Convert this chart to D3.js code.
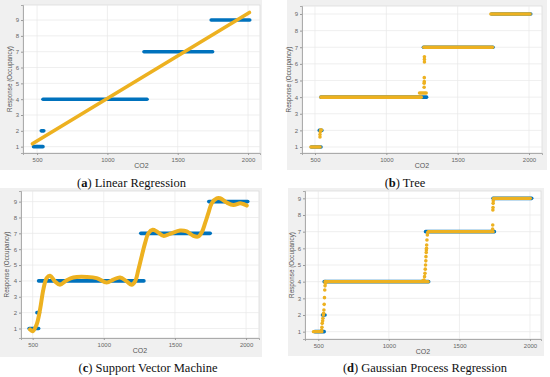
<!DOCTYPE html>
<html>
<head>
<meta charset="utf-8">
<script src="https://d3js.org/d3.v7.min.js"></script>
<style>
  body { margin: 0; background: #fff; }
  svg { display: block; }
</style>
</head>
<body>
<script>
// measured data (CO2 vs occupancy), shared by all four panels
var actualLevel = [1, 2, 4, 7, 9];
var actualStart = [475, 530, 542, 1260, 1738];
var actualEnd   = [542, 548, 1282, 1748, 2012];

// (a) linear regression
var linCO2  = [467, 2010];
var linResp = [1.18, 9.48];

// (b) tree
var treeLevel = [1, 4, 4.25, 7, 9];
var treeStart = [472, 542, 1233, 1263, 1733];
var treeEnd   = [535, 1244, 1279, 1744, 2007];
var treePtCO2  = [535, 535, 537, 539, 545, 1265, 1265, 1266, 1266, 1267, 1267, 1267];
var treePtResp = [1.6, 1.75, 1.92, 2.02, 2.02, 4.59, 4.83, 4.93, 5.17, 6.11, 6.27, 6.43];

// (c) support vector machine
var svmCO2  = [481, 500, 528, 552, 575, 598, 622, 657, 692, 739, 786, 880, 950, 1020, 1067, 1114, 1161, 1196, 1220,
               1243, 1266, 1290, 1313, 1344, 1372, 1419, 1466, 1536, 1583, 1630, 1665, 1688, 1712, 1735, 1759, 1794,
               1817, 1864, 1911, 1958, 1981, 2005];
var svmResp = [0.94, 0.83, 1.25, 2.2, 3.45, 4.18, 4.33, 3.97, 3.76, 4.04, 4.22, 4.25, 4.18, 3.9, 4.08, 4.22, 3.97, 3.76, 3.97,
               4.7, 5.54, 6.38, 7.0, 7.22, 7.12, 6.84, 6.97, 7.18, 7.12, 6.84, 6.8, 7.05, 7.64, 8.27, 8.9, 9.21,
               9.21, 8.94, 8.79, 8.9, 8.85, 8.75];

// (d) gaussian process regression
var gprLevel = [1, 4, 7, 9];
var gprStart = [465, 547, 1279, 1741];
var gprEnd   = [526, 1279, 1739, 2003];
var gprPtCO2  = [524, 526, 528, 531, 533, 536, 538, 540, 542, 544, 546, 548, 551, 553,
                 1240, 1249, 1253, 1256, 1258, 1260, 1262, 1263, 1265, 1266, 1267, 1268, 1270, 1273, 1276,
                 1735, 1736, 1737, 1738, 1739, 1740];
var gprPtResp = [1.1, 1.26, 1.5, 1.65, 1.8, 2.0, 2.1, 2.3, 2.64, 3.04, 3.5, 3.75, 3.9, 4.0,
                 4.05, 4.1, 4.3, 4.5, 4.75, 5.0, 5.25, 5.5, 5.75, 5.9, 6.0, 6.2, 6.5, 6.8, 6.95,
                 7.15, 7.4, 8.3, 8.45, 8.7, 8.85];

var xTicks = [500, 1000, 1500, 2000];
var yTicks = [1, 2, 3, 4, 5, 6, 7, 8, 9];

var BLUE = "#0072BD", GOLD = "#EDB120";

var svg = d3.select("body").append("svg")
  .attr("width", 550).attr("height", 377);

var panels = [
  {frame: [0, 0, 262, 170], plot: [23, 5, 237, 148], xd: [400, 2085], yd: [0.6, 9.95],
   lab: 11, letter: "a", title: "Linear Regression", cx: 131.5, cy: 187},
  {frame: [287, 0, 260, 170], plot: [302, 6, 240, 147], xd: [409, 2091], yd: [0.64, 9.48],
   lab: 11, letter: "b", title: "Tree", cx: 405, cy: 187},
  {frame: [0, 188, 262, 169], plot: [21, 191, 238, 147], xd: [418, 2091], yd: [0.4, 9.67],
   lab: 12, letter: "c", title: "Support Vector Machine", cx: 148, cy: 372},
  {frame: [288, 188, 256, 168], plot: [305, 191, 236, 148], xd: [406, 2078], yd: [0.56, 9.44],
   lab: 11, letter: "d", title: "Gaussian Process Regression", cx: 425, cy: 372}
];

function drawPanel(p) {
  var g = svg.append("g");
  g.append("rect")
    .attr("x", p.frame[0]).attr("y", p.frame[1])
    .attr("width", p.frame[2]).attr("height", p.frame[3])
    .attr("fill", "#f0f0f0");

  var px = p.plot[0], py = p.plot[1], pw = p.plot[2], ph = p.plot[3];
  var x = d3.scaleLinear().domain(p.xd).range([px, px + pw]);
  var y = d3.scaleLinear().domain(p.yd).range([py + ph, py]);

  g.append("rect")
    .attr("x", px).attr("y", py).attr("width", pw).attr("height", ph)
    .attr("fill", "#fff").attr("stroke", "#dcdcdc").attr("stroke-width", 0.8);

  // grid
  g.selectAll(".gx").data(xTicks).enter().append("line")
    .attr("x1", d => x(d)).attr("x2", d => x(d))
    .attr("y1", py).attr("y2", py + ph)
    .attr("stroke", "#e8e8e8").attr("stroke-width", 0.7);
  g.selectAll(".gy").data(yTicks).enter().append("line")
    .attr("x1", px).attr("x2", px + pw)
    .attr("y1", d => y(d)).attr("y2", d => y(d))
    .attr("stroke", "#e8e8e8").attr("stroke-width", 0.7);

  // axes
  var xa = g.append("g").attr("transform", "translate(0," + (py + ph) + ")")
    .call(d3.axisBottom(x).tickValues(xTicks).tickSize(2).tickPadding(3).tickFormat(d3.format("d")));
  var ya = g.append("g").attr("transform", "translate(" + px + ",0)")
    .call(d3.axisLeft(y).tickValues(yTicks).tickSize(2).tickPadding(2).tickFormat(d3.format("d")));
  [xa, ya].forEach(function(a) {
    a.select(".domain").attr("stroke", "#9a9a9a").attr("stroke-width", 0.8);
    a.selectAll(".tick line").attr("stroke", "#9a9a9a");
    a.selectAll(".tick text").attr("fill", "#666")
      .style("font-family", "Liberation Sans, Arial, sans-serif").style("font-size", "6px");
  });

  g.append("text")
    .attr("x", px + pw / 2).attr("y", py + ph + 15)
    .attr("text-anchor", "middle").attr("fill", "#555")
    .style("font-family", "Liberation Sans, Arial, sans-serif").style("font-size", "7px")
    .text("CO2");
  g.append("text")
    .attr("transform", "translate(" + (px - p.lab) + "," + (py + ph / 2) + ") rotate(-90)")
    .attr("text-anchor", "middle").attr("fill", "#555")
    .style("font-family", "Liberation Sans, Arial, sans-serif").style("font-size", "6.3px")
    .text("Response (Occupancy)");

  // measured data
  g.selectAll(".act").data(actualLevel).enter().append("line")
    .attr("x1", (d, i) => x(actualStart[i])).attr("x2", (d, i) => x(actualEnd[i]))
    .attr("y1", d => y(d)).attr("y2", d => y(d))
    .attr("stroke", BLUE).attr("stroke-width", 3.6).attr("stroke-linecap", "round");

  var c = {x: x, y: y, g: g};
  return c;
}

function steps(c, lv, s, e, w) {
  c.g.selectAll(null).data(lv).enter().append("line")
    .attr("x1", (d, i) => c.x(s[i])).attr("x2", (d, i) => c.x(e[i]))
    .attr("y1", d => c.y(d)).attr("y2", d => c.y(d))
    .attr("stroke", GOLD).attr("stroke-width", w).attr("stroke-linecap", "round");
}

function dots(c, xs, ys) {
  c.g.selectAll(null).data(xs).enter().append("circle")
    .attr("cx", d => c.x(d)).attr("cy", (d, i) => c.y(ys[i]))
    .attr("r", 1.8).attr("fill", GOLD);
}

function caption(p) {
  var t = svg.append("text")
    .attr("x", p.cx).attr("y", p.cy).attr("text-anchor", "middle")
    .attr("fill", "#111")
    .style("font-family", "Liberation Serif, Times New Roman, serif").style("font-size", "12.5px");
  t.append("tspan").text("(");
  t.append("tspan").style("font-weight", "bold").text(p.letter);
  t.append("tspan").text(") " + p.title);
}

var ca = drawPanel(panels[0]);
ca.g.append("path")
  .datum(d3.zip(linCO2, linResp))
  .attr("d", d3.line().x(d => ca.x(d[0])).y(d => ca.y(d[1])))
  .attr("fill", "none").attr("stroke", GOLD).attr("stroke-width", 3.6).attr("stroke-linecap", "round");

var cb = drawPanel(panels[1]);
steps(cb, treeLevel, treeStart, treeEnd, 3.6);
dots(cb, treePtCO2, treePtResp);

var cc = drawPanel(panels[2]);
cc.g.append("path")
  .datum(d3.zip(svmCO2, svmResp))
  .attr("d", d3.line().x(d => cc.x(d[0])).y(d => cc.y(d[1])).curve(d3.curveCatmullRom))
  .attr("fill", "none").attr("stroke", GOLD).attr("stroke-width", 4).attr("stroke-linecap", "round");

var cd = drawPanel(panels[3]);
steps(cd, gprLevel, gprStart, gprEnd, 3.2);
dots(cd, gprPtCO2, gprPtResp);

panels.forEach(caption);
</script>
</body>
</html>
